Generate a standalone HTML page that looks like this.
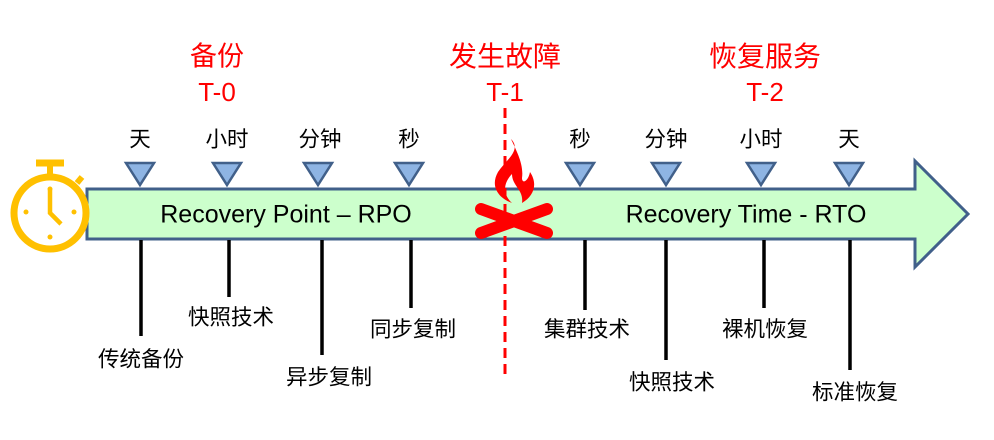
<!DOCTYPE html>
<html><head><meta charset="utf-8"><style>
html,body{margin:0;padding:0;background:#fff;}
body{width:994px;height:440px;position:relative;overflow:hidden;font-family:"Liberation Sans","Noto Sans CJK SC",sans-serif;}
.t{position:absolute;white-space:nowrap;transform:translate(-50%,-50%);line-height:1;}
.k{font-size:21.5px;color:#000;}
.r{color:#f00;font-size:27px;}
</style></head><body>
<svg width="994" height="440" style="position:absolute;left:0;top:0">
<polygon points="87,189 915,189 915,161 968,214 915,267 915,239 87,239" fill="#ccffcc" stroke="#41608a" stroke-width="3" stroke-linejoin="miter"/>
<g fill="#8eb4e3" stroke="#41608a" stroke-width="2.5">
<polygon points="126,163 154,163 140,185"/>
<polygon points="213,163 241,163 227,185"/>
<polygon points="304,163 332,163 318,185"/>
<polygon points="395,163 423,163 409,185"/>
<polygon points="566,163 594,163 580,185"/>
<polygon points="652,163 680,163 666,185"/>
<polygon points="747,163 775,163 761,185"/>
<polygon points="835,163 863,163 849,185"/>
</g>
<g stroke="#000" stroke-width="3.5">
<line x1="141" y1="240" x2="141" y2="336"/>
<line x1="229" y1="240" x2="229" y2="297"/>
<line x1="322" y1="240" x2="322" y2="355"/>
<line x1="411" y1="240" x2="411" y2="308"/>
<line x1="585" y1="240" x2="585" y2="310"/>
<line x1="666" y1="240" x2="666" y2="360"/>
<line x1="764" y1="240" x2="764" y2="308"/>
<line x1="850" y1="240" x2="850" y2="370"/>
</g>
<line x1="505" y1="108" x2="505" y2="374" stroke="#f00" stroke-width="3" stroke-dasharray="10,6"/>
<g stroke="#ffc000" fill="none">
<circle cx="50" cy="213" r="36" stroke-width="7"/>
<line x1="36" y1="163" x2="64" y2="163" stroke-width="7"/>
<line x1="50" y1="165" x2="50" y2="177" stroke-width="6"/>
<line x1="77" y1="183" x2="82" y2="177" stroke-width="6"/>
<polyline points="50,190 50,213 61,224" stroke-width="4.5"/>
</g>
<g fill="#ffc000">
<circle cx="26" cy="212" r="2.5"/><circle cx="74" cy="212" r="2.5"/><circle cx="50" cy="237" r="2.5"/><circle cx="50" cy="189" r="2.5"/>
</g>
<g stroke="#f00" stroke-width="12" stroke-linecap="round">
<line x1="481" y1="209" x2="547" y2="233"/>
<line x1="481" y1="233" x2="547" y2="209"/>
</g>
<path d="M511,139 C522,150 506,160 498,172 C490,186 498,198 512,203 C500,192 506,180 512,174 C512,186 524,190 522,203 C534,196 538,184 530,172 C528,182 522,184 522,178 C524,164 516,150 511,139 Z" fill="#f00"/>
</svg>
<div class="t r" style="left:217px;top:57px">备份</div>
<div class="t r" style="left:217px;top:92px;font-size:26px">T-0</div>
<div class="t r" style="left:505px;top:57px;font-size:28px">发生故障</div>
<div class="t r" style="left:505px;top:92px;font-size:26px">T-1</div>
<div class="t r" style="left:765px;top:57px;font-size:28px">恢复服务</div>
<div class="t r" style="left:765px;top:92px;font-size:26px">T-2</div>
<div class="t k" style="left:140px;top:140px">天</div>
<div class="t k" style="left:227px;top:140px">小时</div>
<div class="t k" style="left:320px;top:140px">分钟</div>
<div class="t k" style="left:409px;top:140px">秒</div>
<div class="t k" style="left:580px;top:140px">秒</div>
<div class="t k" style="left:666px;top:140px">分钟</div>
<div class="t k" style="left:761px;top:140px">小时</div>
<div class="t k" style="left:849px;top:140px">天</div>
<div class="t" style="left:286px;top:215px;font-size:25px">Recovery Point – RPO</div>
<div class="t" style="left:746px;top:215px;font-size:25px">Recovery Time - RTO</div>
<div class="t k" style="left:141px;top:360px">传统备份</div>
<div class="t k" style="left:231px;top:318px">快照技术</div>
<div class="t k" style="left:329px;top:378px">异步复制</div>
<div class="t k" style="left:413px;top:330px">同步复制</div>
<div class="t k" style="left:587px;top:330px">集群技术</div>
<div class="t k" style="left:672px;top:383px">快照技术</div>
<div class="t k" style="left:765px;top:330px">裸机恢复</div>
<div class="t k" style="left:855px;top:393px">标准恢复</div>
</body></html>
